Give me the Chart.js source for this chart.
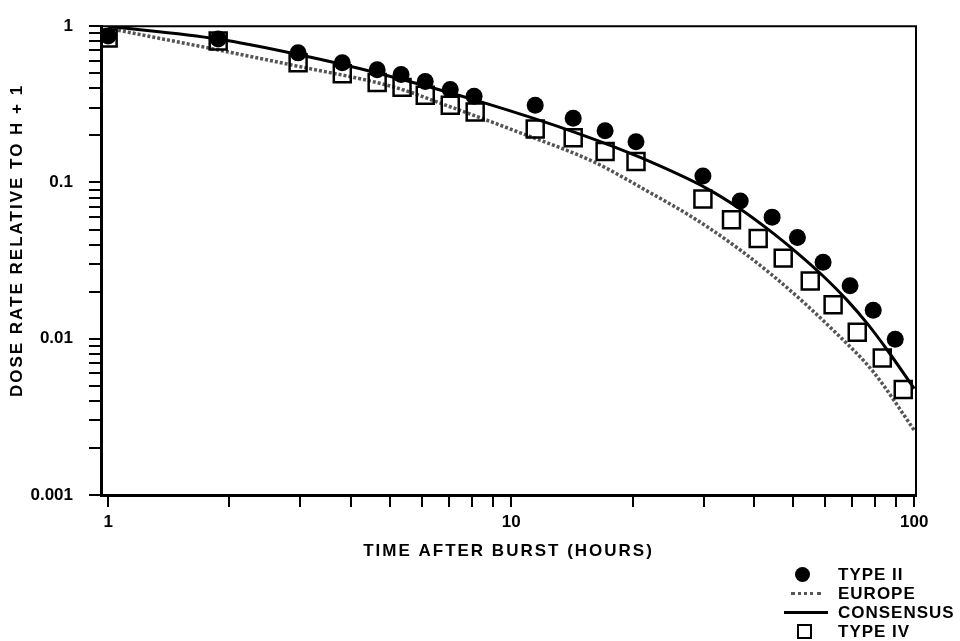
<!DOCTYPE html>
<html>
<head>
<meta charset="utf-8">
<script src="https://cdn.jsdelivr.net/npm/chart.js@4.4.1/dist/chart.umd.min.js"></script>
<style>
  body { margin: 0; background: #fff; }
  #wrap { position: relative; width: 960px; height: 641px; }
  #legend { position: absolute; left: 784px; top: 565px; font: bold 17px "Liberation Sans", Arial, sans-serif; letter-spacing: 1px; color: #000; }
  .row { display: flex; align-items: center; height: 19px; }
  .sym { width: 44px; display: flex; justify-content: center; align-items: center; }
  .txt { margin-left: 10px; line-height: 19px; }
  .dot { width: 15px; height: 15px; border-radius: 50%; background: #000; margin-right: 8px; }
  .eur { width: 30px; border-top: 3px dotted #555; }
  .con { width: 44px; border-top: 3px solid #000; }
  .sq { width: 11px; height: 11px; border: 2px solid #000; margin-right: 4px; }
</style>
</head>
<body>
<div id="wrap">
  <canvas id="grafico" width="960" height="641"></canvas>
  <div id="legend">
    <div class="row"><span class="sym"><span class="dot"></span></span><span class="txt">TYPE II</span></div>
    <div class="row"><span class="sym"><span class="eur"></span></span><span class="txt">EUROPE</span></div>
    <div class="row"><span class="sym"><span class="con"></span></span><span class="txt">CONSENSUS</span></div>
    <div class="row"><span class="sym"><span class="sq"></span></span><span class="txt">TYPE IV</span></div>
  </div>
</div>
<script>
// dati (ore dopo l'esplosione, dose relativa a H+1)
const typeIIHours = [1, 1.875, 2.96, 3.81, 4.65, 5.33, 6.12, 7.06, 8.09, 11.47, 14.25, 17.1, 20.4, 29.9, 37.0, 44.4, 51.3, 59.4, 69.3, 79.1, 89.7];
const typeIIDose  = [0.865, 0.828, 0.675, 0.584, 0.527, 0.49, 0.443, 0.394, 0.356, 0.312, 0.258, 0.214, 0.182, 0.110, 0.076, 0.060, 0.0445, 0.0309, 0.0218, 0.0152, 0.00994];

const typeIVHours = [1, 1.875, 2.96, 3.81, 4.65, 5.36, 6.12, 7.06, 8.14, 11.47, 14.25, 17.1, 20.4, 29.9, 35.2, 41.0, 47.3, 55.2, 62.9, 72.2, 83.3, 93.9];
const typeIVDose  = [0.84, 0.804, 0.584, 0.497, 0.436, 0.406, 0.361, 0.312, 0.282, 0.220, 0.193, 0.1577, 0.1363, 0.0784, 0.0578, 0.0438, 0.0328, 0.0234, 0.0165, 0.0110, 0.00754, 0.00473];

const consensusHours = [1, 1.875, 2.96, 4.65, 8.38, 14.8, 20.9, 30.6, 37.0, 44.7, 51.3, 59.4, 68.2, 76.4, 85.7, 100];
const consensusDose  = [1.0, 0.828, 0.659, 0.502, 0.329, 0.204, 0.1445, 0.0914, 0.0676, 0.0472, 0.0353, 0.0252, 0.0176, 0.01253, 0.00847, 0.00479];

const europeHours = [1, 1.875, 2.91, 5.15, 6.94, 10.53, 15.97, 20.9, 30.6, 44.7, 64.8, 79.1, 100];
const europeDose  = [0.97, 0.705, 0.559, 0.406, 0.31, 0.208, 0.136, 0.0934, 0.0522, 0.0252, 0.01054, 0.00615, 0.0026];

// etichette degli assi
const xTickLabels = ['1', '10', '100'];
const yTickLabels = ['0.001', '0.01', '0.1', '1'];

// tacche 1..9 per ogni decade
function tacche(labels) {
    let out = [];
    for (let i = 0; i < labels.length - 1; i++) {
        let d = Number(labels[i]);
        for (let k = 1; k <= 9; k++) out.push(d * k);
    }
    out.push(Number(labels[labels.length - 1]));
    return out;
}

function etichetta(v, labels) {
    for (let l of labels) {
        if (Math.abs(v - Number(l)) < Number(l) * 1e-6) return l;
    }
    return '';
}

function punti(xs, ys) {
    return xs.map((x, i) => ({ x: x, y: ys[i] }));
}

const fontTick = { family: '"Liberation Sans", Arial, sans-serif', size: 17, weight: 'bold' };

// spaziatura lettere solo per i titoli degli assi
const spaziatura = {
    id: 'spaziatura',
    beforeDraw(chart) { chart.ctx.letterSpacing = '2px'; },
    beforeDatasetsDraw(chart) { chart.ctx.letterSpacing = '0px'; }
};

// cornice sopra e a destra
const cornice = {
    id: 'cornice',
    afterDraw(chart) {
        const a = chart.chartArea, ctx = chart.ctx;
        ctx.save();
        ctx.strokeStyle = '#000';
        ctx.lineWidth = 2;
        ctx.beginPath();
        ctx.moveTo(a.left, a.top);
        ctx.lineTo(a.right, a.top);
        ctx.lineTo(a.right, a.bottom);
        ctx.stroke();
        ctx.restore();
    }
};

const config = {
    type: 'scatter',
    data: {
        datasets: [{
            label: 'TYPE II',
            data: punti(typeIIHours, typeIIDose),
            pointStyle: 'circle',
            pointRadius: 8.5,
            backgroundColor: '#000',
            borderColor: '#000',
            borderWidth: 0,
            order: 1
        }, {
            label: 'EUROPE',
            data: punti(europeHours, europeDose),
            showLine: true,
            pointRadius: 0,
            borderColor: '#555',
            borderWidth: 3.5,
            borderDash: [3, 2],
            cubicInterpolationMode: 'monotone',
            order: 4
        }, {
            label: 'CONSENSUS',
            data: punti(consensusHours, consensusDose),
            showLine: true,
            pointRadius: 0,
            borderColor: '#000',
            borderWidth: 3,
            cubicInterpolationMode: 'monotone',
            order: 3
        }, {
            label: 'TYPE IV',
            data: punti(typeIVHours, typeIVDose),
            pointStyle: 'rect',
            pointRadius: 12,
            backgroundColor: 'rgba(0,0,0,0)',
            borderColor: '#000',
            borderWidth: 2.5,
            order: 2
        }]
    },
    options: {
        responsive: false,
        animation: false,
        layout: { padding: { left: 3, right: 44, top: 20, bottom: 75 } },
        plugins: {
            legend: { display: false },
            tooltip: { enabled: false }
        },
        scales: {
            x: {
                type: 'logarithmic',
                position: 'bottom',
                min: 0.96,
                max: 101,
                afterBuildTicks: s => { s.ticks = tacche(xTickLabels).map(v => ({ value: v })); },
                afterFit: s => { s.height = 71; },
                grid: { drawOnChartArea: false, color: '#000', lineWidth: 2, tickLength: 12 },
                border: { color: '#000', width: 3 },
                ticks: {
                    z: 1, color: '#000', font: fontTick, padding: 5, maxRotation: 0, autoSkip: false,
                    callback: v => etichetta(v, xTickLabels)
                },
                title: { display: true, text: 'TIME AFTER BURST (HOURS)', color: '#000', font: fontTick }
            },
            y: {
                type: 'logarithmic',
                min: 0.001,
                max: 1,
                afterBuildTicks: s => { s.ticks = tacche(yTickLabels).map(v => ({ value: v })); },
                afterFit: s => { s.width = 98; },
                grid: { drawOnChartArea: false, color: '#000', lineWidth: 2, tickLength: 12 },
                border: { color: '#000', width: 3 },
                ticks: {
                    z: 1, color: '#000', font: fontTick, padding: 16, autoSkip: false,
                    callback: v => etichetta(v, yTickLabels)
                },
                title: { display: true, text: '      DOSE RATE RELATIVE TO H + 1', color: '#000', font: fontTick }
            }
        }
    },
    plugins: [spaziatura, cornice]
};

const chart = new Chart(document.getElementById('grafico'), config);
</script>
</body>
</html>
